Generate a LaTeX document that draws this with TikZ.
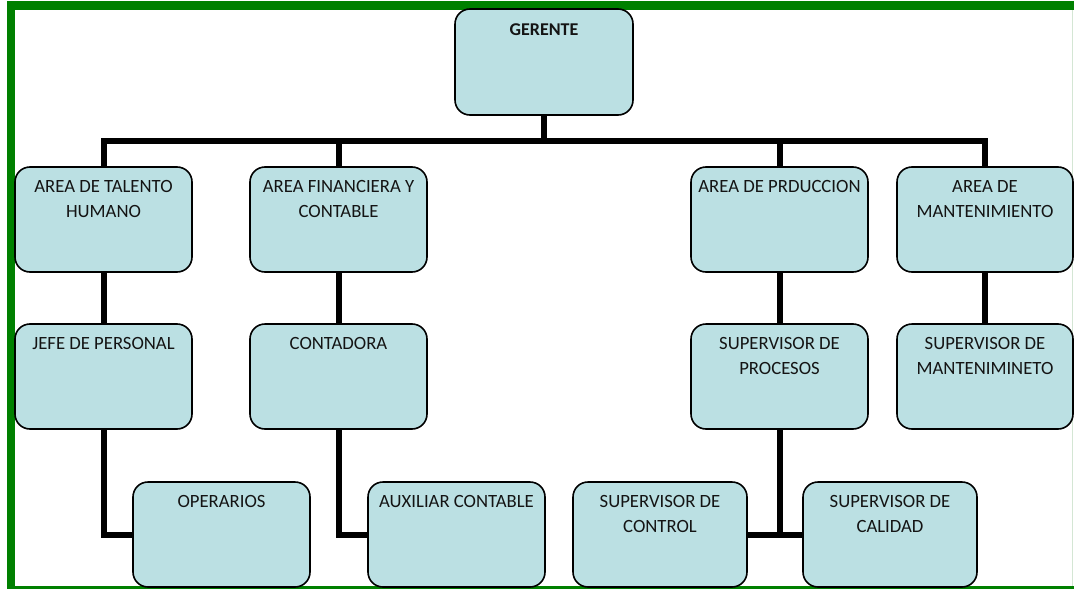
\documentclass[tikz,border=0pt]{standalone}
\usepackage{fontspec}
\setmainfont{Carlito}
\definecolor{boxfill}{HTML}{BBE0E3}
\definecolor{frame}{HTML}{008000}
\definecolor{thinframe}{HTML}{D4E6D4}
\definecolor{txt}{HTML}{141414}
\begin{document}
\begin{tikzpicture}[x=1pt,y=-1pt,
  orgbox/.style={draw=black, line width=1.6pt, rounded corners=15pt, fill=boxfill,
    minimum width=177pt, minimum height=105pt, inner sep=0pt, outer sep=0pt, anchor=north west},
  lbl/.style={anchor=north, align=center, inner sep=0pt, text=txt,
    font={\fontsize{18.7}{25}\selectfont}, yshift=-13pt},
  boldlbl/.style={lbl, font={\fontsize{18}{25}\selectfont\bfseries}, yshift=-1pt},
  conn/.style={draw=black, line width=6pt, line join=miter}]
\useasboundingbox (0,0) rectangle (1074,589);
% frame
\fill[frame] (7,1) rectangle (1074,10);
\fill[frame] (7,1) rectangle (15,589);
\fill[frame] (7,586) rectangle (1074,589);
\draw[thinframe, line width=1.2pt] (1072.5,10) -- (1072.5,586);
% boxes
\node[orgbox, minimum width=178pt, minimum height=106pt] (gerente) at (455,9) {};
\node[orgbox] (talento) at (15,167) {};
\node[orgbox] (financiera) at (250,167) {};
\node[orgbox] (produccion) at (691,167) {};
\node[orgbox, minimum width=176pt] (mant) at (897,167) {};
\node[orgbox] (jefe) at (15,324) {};
\node[orgbox] (contadora) at (250,324) {};
\node[orgbox] (procesos) at (691,324) {};
\node[orgbox, minimum width=176pt] (supmant) at (897,324) {};
\node[orgbox] (operarios) at (133,482) {};
\node[orgbox] (auxiliar) at (368,482) {};
\node[orgbox, minimum width=174pt] (control) at (573,482) {};
\node[orgbox, minimum width=174pt] (calidad) at (803,482) {};
% labels
\node[boldlbl] (tgerente) at (gerente.north) {GERENTE};
\node[lbl] (ttalento) at (talento.north) {AREA DE TALENTO\\HUMANO};
\node[lbl] (tfinanciera) at (financiera.north) {AREA FINANCIERA Y\\CONTABLE};
\node[lbl] (tproduccion) at (produccion.north) {AREA DE PRDUCCION};
\node[lbl] (tmant) at (mant.north) {AREA DE\\MANTENIMIENTO};
\node[lbl] (tjefe) at (jefe.north) {JEFE DE PERSONAL};
\node[lbl] (tcontadora) at (contadora.north) {CONTADORA};
\node[lbl] (tprocesos) at (procesos.north) {SUPERVISOR DE\\PROCESOS};
\node[lbl] (tsupmant) at (supmant.north) {SUPERVISOR DE\\MANTENIMINETO};
\node[lbl] (toperarios) at (operarios.north) {OPERARIOS};
\node[lbl] (tauxiliar) at (auxiliar.north) {AUXILIAR CONTABLE};
\node[lbl] (tcontrol) at (control.north) {SUPERVISOR DE\\CONTROL};
\node[lbl] (tcalidad) at (calidad.north) {SUPERVISOR DE\\CALIDAD};
% connectors
\path (gerente.south) ++(0,26) coordinate (bus);
\draw[conn] (gerente.south) -- (bus);
\draw[conn] (talento.north) |- (bus) -| (mant.north);
\draw[conn] (financiera.north) -- (financiera.north |- bus);
\draw[conn] (produccion.north) -- (produccion.north |- bus);
\draw[conn] (talento.south) -- (jefe.north);
\draw[conn] (financiera.south) -- (contadora.north);
\draw[conn] (produccion.south) -- (procesos.north);
\draw[conn] (mant.south) -- (supmant.north);
\draw[conn] (jefe.south) |- (operarios.west);
\draw[conn] (contadora.south) |- (auxiliar.west);
\draw[conn] (procesos.south) -- (procesos.south |- control.east);
\draw[conn] (control.east) -- (calidad.west);
\end{tikzpicture}
\end{document}
